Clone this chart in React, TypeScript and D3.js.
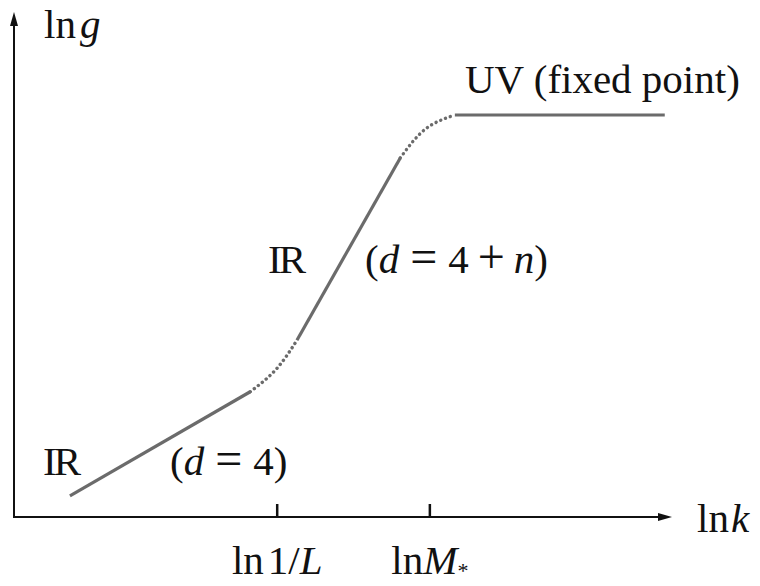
import React from "react";
import * as d3 from "d3";

// Axis domain (arbitrary log units)
const xDomain: [number, number] = [0, 10];
const yDomain: [number, number] = [0, 10];

// Running coupling ln g vs ln k, split into regimes
const irFourD: [number, number][] = [[0.85, 0.42], [3.59, 2.48]];
const crossoverLow: [number, number][] = [[3.59, 2.48], [3.98, 2.92], [4.3, 3.5]];
const irHigherD: [number, number][] = [[4.3, 3.5], [5.87, 7.11]];
const crossoverHigh: [number, number][] = [[5.87, 7.11], [6.25, 7.68], [6.7, 7.96]];
const uvFixed: [number, number][] = [[6.7, 7.96], [9.89, 7.96]];

// Tick marks on ln k axis
const tickValues = [4.0, 6.32];
const tickLabels = [["ln", "1/", "L", ""], ["ln", "", "M", "*"]];

const W = 760;
const H = 586;
const FONT = "'Liberation Serif', 'DejaVu Serif', serif";
const INK = "#111";
const CURVE = "#6b6b6b";

export default function App() {
  const x = d3.scaleLinear().domain(xDomain).range([14, 672]);
  const y = d3.scaleLinear().domain(yDomain).range([517, 12]);

  const straight = d3
    .line<[number, number]>()
    .x((d) => x(d[0]))
    .y((d) => y(d[1]));
  const smooth = d3
    .line<[number, number]>()
    .x((d) => x(d[0]))
    .y((d) => y(d[1]))
    .curve(d3.curveNatural);

  const x0 = x(xDomain[0]);
  const y0 = y(yDomain[0]);
  const xEnd = x(xDomain[1]);
  const yEnd = y(yDomain[1]);

  const solid = { fill: "none", stroke: CURVE, strokeWidth: 3.2, strokeLinecap: "butt" as const };
  const dotted = {
    fill: "none",
    stroke: CURVE,
    strokeWidth: 3.4,
    strokeLinecap: "round" as const,
    strokeDasharray: "0.1 5",
  };

  return (
    <svg
      width={W}
      height={H}
      style={{ position: "fixed", left: 0, top: 0, background: "#fff" }}
      fontFamily={FONT}
    >
      {/* axes */}
      <line x1={x0} y1={y0} x2={xEnd - 8} y2={y0} stroke={INK} strokeWidth={2} />
      <path d={`M${xEnd},${y0} L${xEnd - 14},${y0 - 4} L${xEnd - 14},${y0 + 4} Z`} fill={INK} />
      <line x1={x0} y1={y0 + 1} x2={x0} y2={yEnd + 8} stroke={INK} strokeWidth={2} />
      <path d={`M${x0},${yEnd} L${x0 - 4},${yEnd + 14} L${x0 + 4},${yEnd + 14} Z`} fill={INK} />

      {/* ticks */}
      {tickValues.map((t, i) => (
        <g key={i}>
          <line x1={x(t)} x2={x(t)} y1={y0} y2={y0 - 13} stroke={INK} strokeWidth={2.5} />
          <text x={x(t)} y={574} fontSize={41} textAnchor="middle" fill={INK}>
            <tspan>{tickLabels[i][0]}</tspan>
            <tspan dx={4}>{tickLabels[i][1]}</tspan>
            <tspan fontStyle="italic">{tickLabels[i][2]}</tspan>
            {tickLabels[i][3] && (
              <tspan fontSize={22} dy={4}>
                {tickLabels[i][3]}
              </tspan>
            )}
          </text>
        </g>
      ))}

      {/* axis titles */}
      <text x={44} y={38} fontSize={41} fill={INK}>
        <tspan>ln</tspan>
        <tspan dx={4} fontStyle="italic">g</tspan>
      </text>
      <text x={697} y={532} fontSize={41} fill={INK}>
        <tspan>ln</tspan>
        <tspan dx={2} fontStyle="italic">k</tspan>
      </text>

      {/* curve */}
      <path d={straight(irFourD) ?? ""} {...solid} />
      <path d={smooth(crossoverLow) ?? ""} {...dotted} />
      <path d={straight(irHigherD) ?? ""} {...solid} />
      <path d={smooth(crossoverHigh) ?? ""} {...dotted} />
      <path d={straight(uvFixed) ?? ""} {...solid} />

      {/* regime labels */}
      <text x={465} y={93} fontSize={41} fill={INK}>UV (fixed point)</text>
      <text x={268} y={273} fontSize={41} fill={INK} letterSpacing={-3}>IR</text>
      <text x={365} y={273} fontSize={41} fill={INK}>
        <tspan>(</tspan>
        <tspan fontStyle="italic">d</tspan>
        <tspan dx={11} fontSize={48}>=</tspan>
        <tspan dx={11}>4</tspan>
        <tspan dx={9} fontSize={48}>+</tspan>
        <tspan dx={9} fontStyle="italic">n</tspan>
        <tspan>)</tspan>
      </text>
      <text x={43} y={475} fontSize={41} fill={INK} letterSpacing={-3}>IR</text>
      <text x={170} y={475} fontSize={41} fill={INK}>
        <tspan>(</tspan>
        <tspan fontStyle="italic">d</tspan>
        <tspan dx={11} fontSize={48}>=</tspan>
        <tspan dx={11}>4</tspan>
        <tspan>)</tspan>
      </text>
    </svg>
  );
}
